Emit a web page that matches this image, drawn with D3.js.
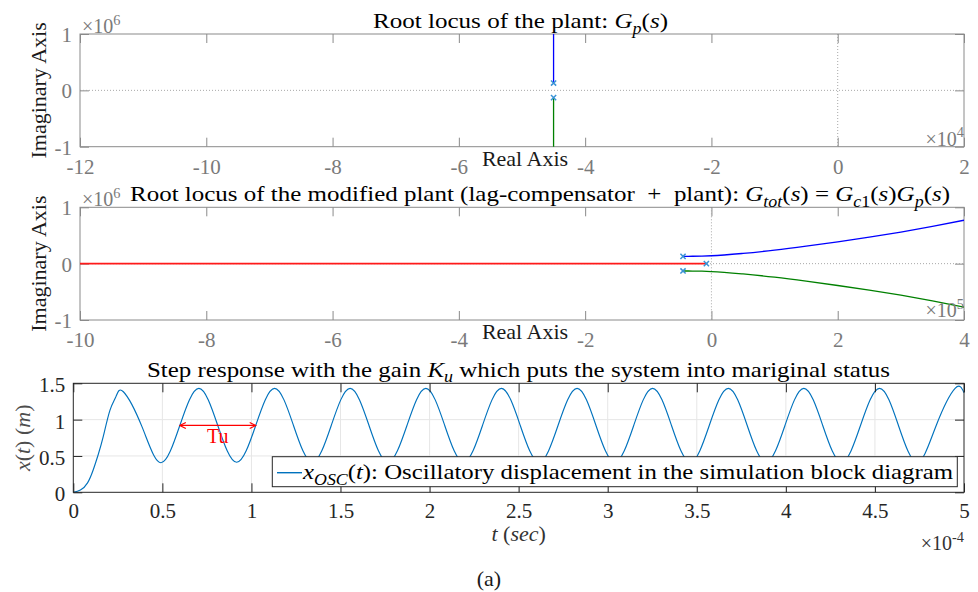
<!DOCTYPE html>
<html>
<head>
<meta charset="utf-8">
<script src="https://cdn.jsdelivr.net/npm/d3@7"></script>
<style>
  body { margin: 0; background: #fff; }
  svg text { white-space: pre; }
</style>
</head>
<body>
<svg id="chart" width="978" height="592"></svg>
<script>
// ---------- data ----------
// Plant: complex pole pair and its two vertical root-locus branches
const plantPoleRe = [-4.5e4, -4.5e4];
const plantPoleIm = [1.3e5, -1.3e5];
const plantUpperRe = [-4.5e4, -4.5e4];
const plantUpperIm = [1.3e5, 1.2e6];
const plantLowerRe = [-4.5e4, -4.5e4];
const plantLowerIm = [-1.3e5, -1.2e6];

// Lag-compensated plant: poles and branches
const modPoleRe = [-4.5e4, -4.5e4, -8e3];
const modPoleIm = [1.3e5, -1.3e5, 0];
const modUpperRe = [-4.5e4, -3e4, -1.5e4, 0, 5e4, 1e5, 1.5e5, 2e5, 2.5e5, 3e5, 3.5e5, 4e5];
const modUpperIm = [1.30e5, 1.31e5, 1.34e5, 1.40e5, 1.82e5, 2.40e5, 3.10e5, 3.88e5, 4.70e5, 5.60e5, 6.60e5, 7.70e5];
const modLowerRe = [-4.5e4, -3e4, -1.5e4, 0, 5e4, 1e5, 1.5e5, 2e5, 2.5e5, 3e5, 3.5e5, 4e5];
const modLowerIm = [-1.30e5, -1.31e5, -1.34e5, -1.40e5, -1.82e5, -2.40e5, -3.10e5, -3.88e5, -4.70e5, -5.60e5, -6.60e5, -7.70e5];
const modRealRe = [-1.1e6, -8e3];
const modRealIm = [0, 0];

// Tick values
const plantXTicks = [-12e4, -10e4, -8e4, -6e4, -4e4, -2e4, 0, 2e4];
const modXTicks = [-10e5, -8e5, -6e5, -4e5, -2e5, 0, 2e5, 4e5];
const imagTicks = [-1e6, 0, 1e6];
const stepXTicks = [0, 0.5e-4, 1e-4, 1.5e-4, 2e-4, 2.5e-4, 3e-4, 3.5e-4, 4e-4, 4.5e-4, 5e-4];
const stepYTicks = [0, 0.5, 1, 1.5];

// Step response at the ultimate gain (time in s, displacement in m)
const stepTime = [0, 0.04e-4, 0.08e-4, 0.112e-4, 0.14e-4, 0.168e-4, 0.206e-4, 0.24e-4, 0.281e-4, 0.386e-4,
  0.492e-4, 0.598e-4, 0.705e-4, 0.811e-4, 0.917e-4, 1.024e-4, 1.130e-4, 1.236e-4, 1.342e-4, 1.448e-4,
  1.554e-4, 1.660e-4, 1.766e-4, 1.873e-4, 1.979e-4, 2.085e-4, 2.191e-4, 2.297e-4, 2.403e-4, 2.509e-4,
  2.615e-4, 2.721e-4, 2.828e-4, 2.934e-4, 3.040e-4, 3.146e-4, 3.252e-4, 3.358e-4, 3.464e-4, 3.570e-4,
  3.677e-4, 3.783e-4, 3.889e-4, 3.995e-4, 4.101e-4, 4.207e-4, 4.313e-4, 4.419e-4, 4.526e-4, 4.632e-4,
  4.738e-4, 4.844e-4, 4.950e-4, 5.0e-4];
const stepDisp = [0, 0.03, 0.13, 0.31, 0.52, 0.765, 1.13, 1.32, 1.384, 0.90,
  0.407, 0.92, 1.43, 0.92, 0.413, 0.92, 1.43, 0.92, 0.413, 0.92,
  1.43, 0.92, 0.413, 0.92, 1.43, 0.92, 0.413, 0.92, 1.43, 0.92,
  0.413, 0.92, 1.43, 0.92, 0.413, 0.92, 1.43, 0.92, 0.413, 0.92,
  1.43, 0.92, 0.413, 0.92, 1.43, 0.92, 0.413, 0.92, 1.43, 0.92,
  0.413, 0.92, 1.43, 1.37];

// Ultimate period marker
const tuStart = 0.598e-4;
const tuEnd = 1.024e-4;
const tuLevel = 0.92;

// ---------- drawing ----------
const svg = d3.select("#chart");
const FONT = '"Liberation Serif", "Times New Roman", serif';
const GRAY_TXT = "#7a7a7a";
const GRAY_AX = "#8a8a8a";
const DARK = "#262626";
const POLE_COLOR = "#3a93d6";
const SIG_COLOR = "#0072BD";

// Text with italic parts, sub- and superscripts
function rich(parent, x, y, size, parts, opts = {}) {
  const t = parent.append("text")
    .attr("x", x).attr("y", y)
    .attr("font-size", size)
    .attr("fill", opts.fill || "#000")
    .attr("text-anchor", opts.anchor || "middle");
  if (opts.rotate) t.attr("transform", `rotate(-90,${x},${y})`);
  let shift = 0;
  parts.forEach(p => {
    const target = p.sub ? size * 0.25 : p.sup ? -size * 0.42 : 0;
    const s = t.append("tspan").text(p.t).attr("dy", target - shift);
    shift = target;
    if (p.sub || p.sup) s.attr("font-size", size * 0.72);
    if (p.i) s.attr("font-style", "italic");
  });
  if (opts.width) t.attr("textLength", opts.width).attr("lengthAdjust", "spacingAndGlyphs");
  return t;
}

const fmtScaled = exp => d => String(+(d / exp).toFixed(2));

function styleAxis(g, color, size) {
  g.attr("font-family", FONT).attr("font-size", size).attr("color", color);
  g.select(".domain").remove();
  g.selectAll(".tick line").attr("stroke-width", 1);
}

function locusPanel(cfg) {
  const g = svg.append("g");
  const x = d3.scaleLinear().domain(cfg.xDomain).range([cfg.left, cfg.right]);
  const y = d3.scaleLinear().domain([-1e6, 1e6]).range([cfg.bottom, cfg.top]);

  svg.append("clipPath").attr("id", cfg.id).append("rect")
    .attr("x", cfg.left).attr("y", cfg.top)
    .attr("width", cfg.right - cfg.left).attr("height", cfg.bottom - cfg.top);

  // axes with inward ticks
  g.append("g").attr("transform", `translate(0,${cfg.bottom})`)
    .call(d3.axisBottom(x).tickValues(cfg.xTicks).tickSizeInner(-9).tickSizeOuter(0).tickFormat(fmtScaled(cfg.xExp)))
    .call(a => styleAxis(a, GRAY_TXT, 21))
    .call(a => a.selectAll(".tick line").attr("stroke", GRAY_AX))
    .call(a => a.selectAll("text").attr("y", 27).attr("dy", null));
  g.append("g").attr("transform", `translate(0,${cfg.top})`)
    .call(d3.axisTop(x).tickValues(cfg.xTicks).tickSizeInner(-9).tickSizeOuter(0).tickFormat(""))
    .call(a => styleAxis(a, GRAY_AX, 21));
  g.append("g").attr("transform", `translate(${cfg.left},0)`)
    .call(d3.axisLeft(y).tickValues(imagTicks).tickSizeInner(-9).tickSizeOuter(0).tickFormat(fmtScaled(1e6)))
    .call(a => styleAxis(a, GRAY_TXT, 21))
    .call(a => a.selectAll(".tick line").attr("stroke", GRAY_AX))
    .call(a => a.selectAll("text").attr("x", -8).attr("dy", "0.36em"));
  g.append("g").attr("transform", `translate(${cfg.right},0)`)
    .call(d3.axisRight(y).tickValues(imagTicks).tickSizeInner(-9).tickSizeOuter(0).tickFormat(""))
    .call(a => styleAxis(a, GRAY_AX, 21));

  // dotted lines through the origin
  g.append("line").attr("x1", cfg.left).attr("x2", cfg.right).attr("y1", y(0)).attr("y2", y(0))
    .attr("stroke", "#a8a8a8").attr("stroke-dasharray", "1,2");
  g.append("line").attr("x1", x(0)).attr("x2", x(0)).attr("y1", cfg.top).attr("y2", cfg.bottom)
    .attr("stroke", "#a8a8a8").attr("stroke-dasharray", "1,2");

  g.append("rect").attr("x", cfg.left).attr("y", cfg.top)
    .attr("width", cfg.right - cfg.left).attr("height", cfg.bottom - cfg.top)
    .attr("fill", "none").attr("stroke", GRAY_AX).attr("stroke-width", 1);

  // branches
  const plot = g.append("g").attr("clip-path", `url(#${cfg.id})`);
  const line = d3.line().x(d => x(d[0])).y(d => y(d[1])).curve(d3.curveMonotoneX);
  const vline = d3.line().x(d => x(d[0])).y(d => y(d[1]));
  cfg.branches.forEach(b => {
    plot.append("path").datum(d3.zip(b.re, b.im))
      .attr("d", b.vertical ? vline : line)
      .attr("fill", "none").attr("stroke", b.color).attr("stroke-width", b.width || 1.3);
  });

  // poles
  plot.selectAll(".pole").data(d3.zip(cfg.poleRe, cfg.poleIm)).join("path")
    .attr("class", "pole")
    .attr("transform", d => `translate(${x(d[0])},${y(d[1])})`)
    .attr("d", "M-2.6,-2.6L2.6,2.6M-2.6,2.6L2.6,-2.6")
    .attr("stroke", POLE_COLOR).attr("stroke-width", 1.5).attr("fill", "none");

  // labels
  rich(g, 46, (cfg.top + cfg.bottom) / 2, 22, [{ t: "Imaginary Axis" }], { rotate: true, fill: "#1a1a1a" });
  rich(g, (cfg.left + cfg.right) / 2 + 3, cfg.bottom + 19, 22, [{ t: "Real Axis" }], { fill: "#1a1a1a" });
  rich(g, cfg.left + 2, cfg.top - 1, 20, [{ t: "×10" }, { t: "6", sup: true }], { anchor: "start", fill: GRAY_TXT });
  rich(g, cfg.right, cfg.bottom - cfg.expDrop, 20, [{ t: "×10" }, { t: cfg.expLabel, sup: true }], { anchor: "end", fill: GRAY_TXT });
  rich(g, cfg.titleX, cfg.titleY, 22, cfg.title, { anchor: "start", width: cfg.titleW });
}

// Panel 1: plant
locusPanel({
  id: "clip-plant", left: 80, right: 964, top: 34, bottom: 146.7,
  xDomain: [-12e4, 2e4], xTicks: plantXTicks, xExp: 1e4, expLabel: "4", expDrop: 1,
  poleRe: plantPoleRe, poleIm: plantPoleIm,
  branches: [
    { re: plantUpperRe, im: plantUpperIm, color: "#0000ff", vertical: true },
    { re: plantLowerRe, im: plantLowerIm, color: "#008000", vertical: true }
  ],
  titleX: 373, titleY: 28, titleW: 295,
  title: [{ t: "Root locus of the plant: " }, { t: "G", i: true }, { t: "p", i: true, sub: true }, { t: "(" }, { t: "s", i: true }, { t: ")" }]
});

// Panel 2: lag-compensated plant
locusPanel({
  id: "clip-mod", left: 80, right: 964, top: 207.3, bottom: 320,
  xDomain: [-10e5, 4e5], xTicks: modXTicks, xExp: 1e5, expLabel: "5", expDrop: 3,
  poleRe: modPoleRe, poleIm: modPoleIm,
  branches: [
    { re: modRealRe, im: modRealIm, color: "#ff1a1a", vertical: true, width: 1.7 },
    { re: modUpperRe, im: modUpperIm, color: "#0000ff" },
    { re: modLowerRe, im: modLowerIm, color: "#008000" }
  ],
  titleX: 130, titleY: 201, titleW: 820,
  title: [{ t: "Root locus of the modified plant (lag-compensator  +  plant): " },
    { t: "G", i: true }, { t: "tot", i: true, sub: true }, { t: "(" }, { t: "s", i: true }, { t: ") = " },
    { t: "G", i: true }, { t: "c", i: true, sub: true }, { t: "1", sub: true }, { t: "(" }, { t: "s", i: true }, { t: ")" },
    { t: "G", i: true }, { t: "p", i: true, sub: true }, { t: "(" }, { t: "s", i: true }, { t: ")" }]
});

// Panel 3: step response
(function stepPanel() {
  const L = 73.3, R = 964, T = 383.3, B = 492.3;
  const g = svg.append("g");
  const x = d3.scaleLinear().domain([0, 5e-4]).range([L, R]);
  const y = d3.scaleLinear().domain([0, 1.5]).range([B, T]);

  // grid
  g.append("g").selectAll("line").data(stepXTicks.slice(1, -1)).join("line")
    .attr("x1", d => x(d)).attr("x2", d => x(d)).attr("y1", T).attr("y2", B)
    .attr("stroke", "#e6e6e6");
  g.append("g").selectAll("line").data(stepYTicks.slice(1, -1)).join("line")
    .attr("x1", L).attr("x2", R).attr("y1", d => y(d)).attr("y2", d => y(d))
    .attr("stroke", "#e6e6e6");

  // response
  const line = d3.line().x((d) => x(d[0])).y(d => y(d[1])).curve(d3.curveNatural);
  g.append("path").datum(d3.zip(stepTime, stepDisp))
    .attr("d", line).attr("fill", "none").attr("stroke", SIG_COLOR).attr("stroke-width", 1.15);

  // axes
  g.append("g").attr("transform", `translate(0,${B})`)
    .call(d3.axisBottom(x).tickValues(stepXTicks).tickSizeInner(-9).tickSizeOuter(0).tickFormat(fmtScaled(1e-4)))
    .call(a => styleAxis(a, DARK, 21))
    .call(a => a.selectAll("text").attr("y", 26).attr("dy", null));
  g.append("g").attr("transform", `translate(0,${T})`)
    .call(d3.axisTop(x).tickValues(stepXTicks).tickSizeInner(-9).tickSizeOuter(0).tickFormat(""))
    .call(a => styleAxis(a, DARK, 21));
  g.append("g").attr("transform", `translate(${L},0)`)
    .call(d3.axisLeft(y).tickValues(stepYTicks).tickSizeInner(-9).tickSizeOuter(0).tickFormat(d => String(d)))
    .call(a => styleAxis(a, DARK, 21))
    .call(a => a.selectAll("text").attr("x", -8).attr("dy", "0.4em"));
  g.append("g").attr("transform", `translate(${R},0)`)
    .call(d3.axisRight(y).tickValues(stepYTicks).tickSizeInner(-9).tickSizeOuter(0).tickFormat(""))
    .call(a => styleAxis(a, DARK, 21));
  g.append("rect").attr("x", L).attr("y", T).attr("width", R - L).attr("height", B - T)
    .attr("fill", "none").attr("stroke", DARK).attr("stroke-width", 1);

  // ultimate period arrow
  const defs = svg.append("defs");
  ["tu-start", "tu-end"].forEach((id, k) => {
    defs.append("marker").attr("id", id).attr("viewBox", "-7 -4 8 8")
      .attr("refX", 0).attr("refY", 0).attr("markerWidth", 8).attr("markerHeight", 8)
      .attr("markerUnits", "userSpaceOnUse").attr("orient", k === 0 ? "auto-start-reverse" : "auto")
      .append("path").attr("d", "M-6,-3L0,0L-6,3").attr("fill", "none").attr("stroke", "#ff0000").attr("stroke-width", 1.2);
  });
  g.append("line").attr("x1", x(tuStart)).attr("x2", x(tuEnd)).attr("y1", y(tuLevel)).attr("y2", y(tuLevel))
    .attr("stroke", "#ff0000").attr("stroke-width", 1.2)
    .attr("marker-start", "url(#tu-start)").attr("marker-end", "url(#tu-end)");
  rich(g, x((tuStart + tuEnd) / 2), y(tuLevel) + 18, 20, [{ t: "Tu" }], { fill: "#ff0000" });

  // legend
  const lg = g.append("g");
  lg.append("rect").attr("x", 272.3).attr("y", 456.7).attr("width", 685).attr("height", 30)
    .attr("fill", "#fff").attr("stroke", DARK).attr("stroke-width", 1);
  lg.append("line").attr("x1", 277).attr("x2", 302).attr("y1", 472.7).attr("y2", 472.7)
    .attr("stroke", SIG_COLOR).attr("stroke-width", 1.4);
  rich(lg, 303, 479, 22, [{ t: "x", i: true }, { t: "OSC", i: true, sub: true }, { t: "(" }, { t: "t", i: true },
    { t: "): Oscillatory displacement in the simulation block diagram" }], { anchor: "start", width: 650 });

  // labels
  rich(g, 147, 376.7, 22, [{ t: "Step response with the gain " }, { t: "K", i: true }, { t: "u", i: true, sub: true },
    { t: " which puts the system into mariginal status" }], { anchor: "start", width: 743 });
  rich(g, 30, (T + B) / 2, 22, [{ t: "x", i: true }, { t: "(" }, { t: "t", i: true }, { t: ") (" }, { t: "m", i: true }, { t: ")" }],
    { rotate: true, fill: "#4d4d4d" });
  rich(g, (L + R) / 2, 541, 22, [{ t: "t", i: true }, { t: " (" }, { t: "sec", i: true }, { t: ")" }], { fill: "#333" });
  rich(g, R, 550, 20, [{ t: "×10" }, { t: "-4", sup: true }], { anchor: "end", fill: "#333" });
  rich(g, 489, 586, 22, [{ t: "(a)" }], { fill: "#1a1a1a" });
})();

// one serif face for every label
svg.selectAll("text").attr("font-family", FONT);
</script>
</body>
</html>
